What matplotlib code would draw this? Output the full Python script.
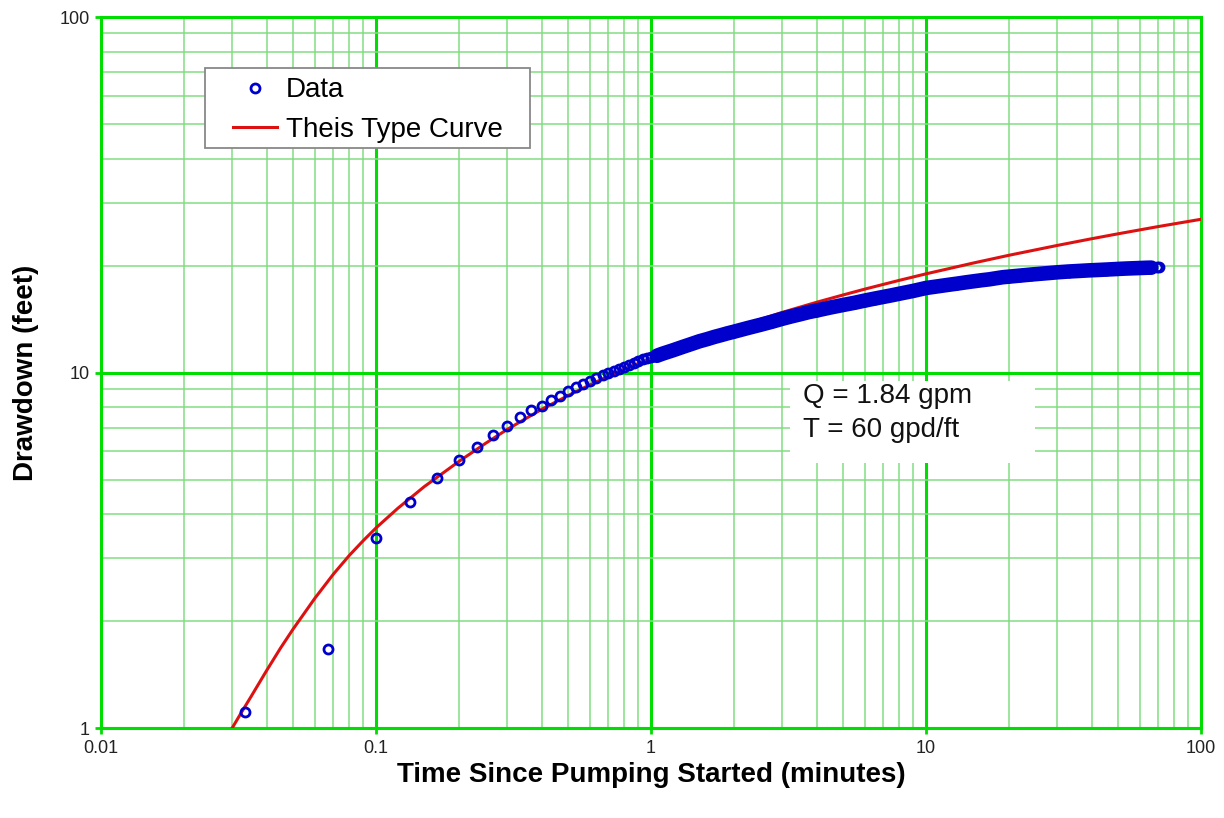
import matplotlib
matplotlib.use("Agg")
import matplotlib.pyplot as plt
from matplotlib.lines import Line2D
from matplotlib.patches import Rectangle
from matplotlib.ticker import LogLocator, NullFormatter

plt.rcParams["font.family"] = ["Liberation Sans", "DejaVu Sans"]

# measured drawdown, first minute read every 2 s
data_time_min = [
    0.0333, 0.0667, 0.1, 0.1333, 0.1667, 0.2, 0.2333, 0.2667, 0.3, 0.3333,
    0.3667, 0.4, 0.4333, 0.4667, 0.5, 0.5333, 0.5667, 0.6, 0.6333, 0.6667,
    0.7, 0.7333, 0.7667, 0.8, 0.8333, 0.8667, 0.9, 0.9333, 0.9667, 1.0,
]
data_drawdown_ft = [
    1.11, 1.67, 3.42, 4.33, 5.06, 5.67, 6.18, 6.67, 7.07, 7.48,
    7.83, 8.07, 8.37, 8.59, 8.85, 9.08, 9.28, 9.48, 9.67, 9.84,
    9.95, 10.12, 10.25, 10.38, 10.52, 10.66, 10.80, 10.91, 11.0, 11.05,
]
# later record is so dense the circles merge into a band
dense_time_min = [
    1.05, 1.1, 1.2, 1.3, 1.4, 1.5, 1.6, 1.7, 1.8, 1.9, 2.0,
    2.25, 2.5, 2.75, 3.0, 3.25, 3.5, 3.75, 4.0, 4.5, 5.0, 5.5, 6.0, 6.5,
    7.0, 7.5, 8.0, 9.0, 10, 11, 12, 13, 14, 15, 16, 17, 18, 19, 20, 22,
    24, 26, 28, 30, 33, 36, 39, 42, 45, 48, 51, 54, 57, 60, 63, 66, 69, 70.5,
]
dense_drawdown_ft = [
    11.15, 11.3, 11.55, 11.8, 12.03, 12.25, 12.42, 12.6, 12.75, 12.9, 13.03,
    13.35, 13.63, 13.9, 14.17, 14.4, 14.6, 14.8, 14.95, 15.25, 15.5, 15.72, 15.95, 16.15,
    16.33, 16.5, 16.67, 16.98, 17.3, 17.48, 17.65, 17.8, 17.95, 18.08, 18.2, 18.3, 18.43, 18.55, 18.62, 18.75,
    18.87, 18.97, 19.06, 19.15, 19.25, 19.32, 19.39, 19.44, 19.49, 19.54, 19.59, 19.63, 19.66, 19.69, 19.72, 19.74, 19.76, 19.77,
]

# Theis type curve
theis_time_min = [
    0.029, 0.030, 0.032, 0.0333, 0.035, 0.04, 0.045, 0.05, 0.06, 0.07, 0.08, 0.09,
    0.1, 0.12, 0.15, 0.2, 0.25, 0.3, 0.4, 0.5, 0.6, 0.7, 0.8, 1.0, 1.5, 2.0,
    3.0, 4.0, 5.0, 6.0, 8.0, 10, 15, 20, 30, 40, 50, 70, 100,
]
theis_drawdown_ft = [
    0.957, 1.0, 1.088, 1.145, 1.22, 1.45, 1.68, 1.9, 2.32, 2.71, 3.06, 3.37,
    3.655, 4.15, 4.78, 5.62, 6.32, 6.92, 7.88, 8.62, 9.24, 9.77, 10.22, 10.98, 12.37, 13.36,
    14.77, 15.77, 16.54, 17.18, 18.18, 18.96, 20.37, 21.38, 22.79, 23.8, 24.58, 25.76, 27.0,
]

x_ticks = [0.01, 0.1, 1, 10, 100]
x_tick_labels = ["0.01", "0.1", "1", "10", "100"]
y_ticks = [1, 10, 100]
y_tick_labels = ["1", "10", "100"]

MAJOR_GREEN = "#00dd00"
MINOR_GREEN = "#82dc82"
BLUE = "#0000cc"
RED = "#dd1111"

fig = plt.figure(figsize=(12.24, 8.18), dpi=100)
ax = fig.add_axes([0.0825, 0.110, 0.8987, 0.869])

ax.set_xscale("log")
ax.set_yscale("log")
ax.set_xlim(0.01, 100)
ax.set_ylim(1, 100)

ax.xaxis.set_minor_locator(LogLocator(base=10, subs=range(2, 10)))
ax.yaxis.set_minor_locator(LogLocator(base=10, subs=range(2, 10)))
ax.xaxis.set_minor_formatter(NullFormatter())
ax.yaxis.set_minor_formatter(NullFormatter())
ax.set_xticks(x_ticks, x_tick_labels)
ax.set_yticks(y_ticks, y_tick_labels)

ax.grid(True, which="minor", color=MINOR_GREEN, linewidth=1.1, zorder=0)
ax.grid(True, which="major", color=MAJOR_GREEN, linewidth=2.2, zorder=0)
ax.set_axisbelow(True)
for sp in ax.spines.values():
    sp.set_color(MAJOR_GREEN)
    sp.set_linewidth(2.2)

ax.tick_params(which="major", direction="out", length=4.5, width=2, color=MAJOR_GREEN,
               labelsize=13, labelcolor="#222222")
ax.tick_params(axis="y", which="major", pad=3.5)
ax.tick_params(axis="x", which="major", pad=4)
ax.tick_params(which="minor", length=0)

# parameter box
ax.add_patch(Rectangle((0.6264, 0.3727), 0.2227, 0.1153, transform=ax.transAxes,
                       facecolor="white", edgecolor="none", zorder=1))
ax.text(0.638, 0.443, "Q = 1.84 gpm\nT = 60 gpd/ft", transform=ax.transAxes,
        fontsize=20, color="#111111", va="center", ha="left", linespacing=1.4, zorder=2)

ax.plot(theis_time_min, theis_drawdown_ft, color=RED, linewidth=2.2, zorder=3)
ax.plot(dense_time_min[:-2], dense_drawdown_ft[:-2], color=BLUE, linewidth=10.5,
        solid_capstyle="round", zorder=4)
ax.plot(data_time_min + dense_time_min, data_drawdown_ft + dense_drawdown_ft,
        linestyle="none", marker="o", markersize=6.5, markerfacecolor="none",
        markeredgecolor=BLUE, markeredgewidth=2.0, zorder=5)

# legend: plain grey box with the entries inside
ax.add_patch(Rectangle((0.0945, 0.8158), 0.2955, 0.1125, transform=ax.transAxes,
                       facecolor="white", edgecolor="#888888", linewidth=1.3, zorder=6))
handles = [
    Line2D([], [], linestyle="none", marker="o", markersize=6.5, markerfacecolor="none",
           markeredgecolor=BLUE, markeredgewidth=2.0),
    Line2D([], [], color=RED, linewidth=2.2),
]
leg = ax.legend(handles, ["Data", "Theis Type Curve"], loc="upper left",
                bbox_to_anchor=(0.12, 0.9155), borderaxespad=0, borderpad=0,
                fontsize=20, frameon=False, handlelength=1.6, handletextpad=0.3,
                labelspacing=0.5)
leg.set_zorder(7)

ax.set_xlabel("Time Since Pumping Started (minutes)", fontsize=20, fontweight="bold",
              labelpad=4)
ax.set_ylabel("Drawdown (feet)", fontsize=20, fontweight="bold", labelpad=15)

fig.savefig("out.png", dpi=100)
